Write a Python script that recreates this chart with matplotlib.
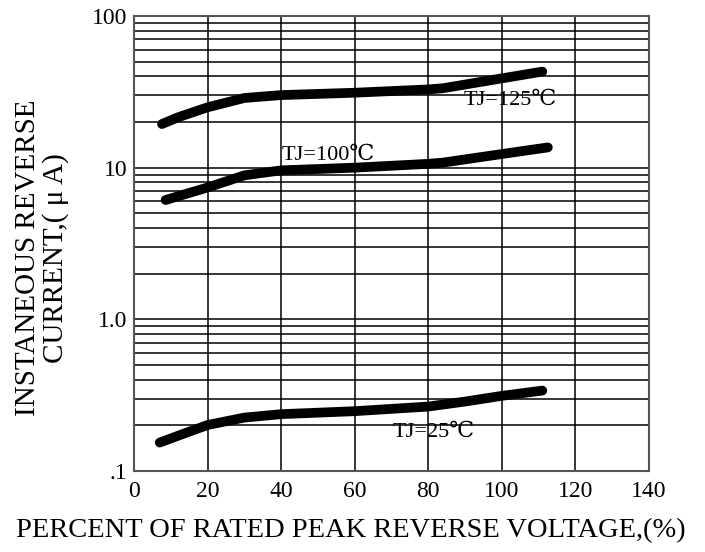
import matplotlib
matplotlib.use("Agg")
import matplotlib.pyplot as plt
from matplotlib.ticker import FixedLocator, FixedFormatter, LogLocator, NullFormatter

# Data
x_125 = [7.6, 12, 20, 30, 40, 60, 80, 84, 100, 111]
y_125 = [19.4, 21.5, 25.0, 28.8, 30.1, 31.2, 32.8, 33.4, 38.8, 43.0]

x_100 = [8.6, 14, 20, 30, 40, 60, 80, 84, 100, 112.5]
y_100 = [6.12, 6.7, 7.4, 8.9, 9.6, 10.0, 10.6, 10.8, 12.3, 13.6]

x_25 = [7.0, 14, 20, 30, 40, 60, 80, 90, 100, 111]
y_25 = [0.154, 0.178, 0.201, 0.225, 0.237, 0.248, 0.266, 0.287, 0.313, 0.339]

labels = ["TJ=125\u2103", "TJ=100\u2103", "TJ=25\u2103"]
label_pos = [(89.5, 27.9), (40.2, 12.1), (70.3, 0.181)]

x_ticks = [0, 20, 40, 60, 80, 100, 120, 140]
x_tick_labels = ["0", "20", "40", "60", "80", "100", "120", "140"]
y_ticks = [0.1, 1.0, 10, 100]
y_tick_labels = [".1", "1.0", "10", "100"]

plt.rcParams['font.family'] = ['Liberation Serif', 'DejaVu Serif']

fig = plt.figure(figsize=(7.05, 5.52), dpi=100)
ax = fig.add_axes([134/705, 81/552, 515/705, 455/552])

ax.set_yscale('log')
ax.set_xlim(0, 140)
ax.set_ylim(0.1, 100)

ax.xaxis.set_major_locator(FixedLocator(x_ticks))
ax.xaxis.set_major_formatter(FixedFormatter(x_tick_labels))
ax.yaxis.set_major_locator(FixedLocator(y_ticks))
ax.yaxis.set_major_formatter(FixedFormatter(y_tick_labels))
ax.yaxis.set_minor_locator(LogLocator(base=10, subs=range(2, 10)))
ax.yaxis.set_minor_formatter(NullFormatter())

ax.grid(True, which='major', axis='both', color='black', linewidth=1.1)
ax.grid(True, which='minor', axis='y', color='black', linewidth=1.1)
ax.tick_params(which='both', length=0)
ax.tick_params(axis='x', labelsize=17, pad=7)
ax.tick_params(axis='y', labelsize=17, pad=5)

for s in ax.spines.values():
    s.set_color('#555555')
    s.set_linewidth(1.5)

for xs, ys in [(x_125, y_125), (x_100, y_100), (x_25, y_25)]:
    ax.plot(xs, ys, color='black', linewidth=7, solid_capstyle='round',
            solid_joinstyle='round', zorder=3)

for txt, (lx, ly) in zip(labels, label_pos):
    ax.text(lx, ly, txt, fontsize=16, ha='left', va='center', zorder=4)

fig.text(16/705, 1 - 531/552, "PERCENT OF RATED PEAK REVERSE VOLTAGE,(%)",
         fontsize=20.5, ha='left', va='center')
fig.text(42/705, 1 - 258/552, "INSTANEOUS REVERSE\nCURRENT,( \u03bc A)",
         fontsize=21, ha='center', va='center', rotation=90,
         multialignment='center', linespacing=1.05)

fig.savefig("out.png", dpi=100)
